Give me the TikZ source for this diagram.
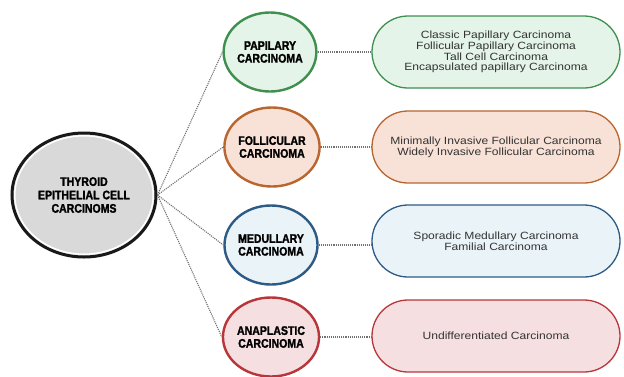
\documentclass[tikz,border=0pt]{standalone}
\usepackage{fontspec}
\setmainfont{Liberation Sans}[FakeStretch=1.15]
\newfontfamily\headfont{Liberation Sans Bold}[FakeStretch=0.85, FakeBold=1.6]
\usetikzlibrary{shapes.geometric}
\definecolor{pgreen}{HTML}{3F8F4F}
\definecolor{pgreenf}{HTML}{E4F4E8}
\definecolor{forange}{HTML}{B9652E}
\definecolor{forangef}{HTML}{F8E2D7}
\definecolor{mblue}{HTML}{2D5B86}
\definecolor{mbluef}{HTML}{EAF4F8}
\definecolor{ared}{HTML}{B8363A}
\definecolor{aredf}{HTML}{F5DFE1}
\definecolor{maingrey}{HTML}{D9D9D9}
\definecolor{linkgrey}{HTML}{707070}
\tikzset{
  typecirc/.style={ellipse, draw=#1, fill=#1f, line width=2.4pt, minimum width=92pt, minimum height=79pt, inner sep=0pt, align=center, font=\fontsize{12.4}{12.8}\headfont},
  subbox/.style={rectangle, rounded corners=36pt, draw=#1, fill=#1f, line width=1.3pt, minimum width=248pt, minimum height=72pt, inner sep=0pt, align=center, font=\fontsize{10.5}{10.7}\selectfont, text=black!80},
  link/.style={draw=linkgrey, line width=1.1pt, densely dotted},
}
\begin{document}
\begin{tikzpicture}[x=1pt,y=-1pt]
\useasboundingbox (0,0) rectangle (624,376);
\node[ellipse, draw=black!90, fill=maingrey, line width=3pt, minimum width=144pt, minimum height=124pt, inner sep=0pt, align=center, font=\fontsize{12.4}{13.4}\headfont] (main) at (84,195) {THYROID\\EPITHELIAL CELL\\CARCINOMS};
\draw[white, line width=1.5pt] (main.center) ellipse (69.2 and 59.2);

\node[typecirc=pgreen] (pap) at (270,52) {PAPILARY\\CARCINOMA};
\node[typecirc=forange] (fol) at (272,147) {FOLLICULAR\\CARCINOMA};
\node[typecirc=mblue] (med) at (271,245) {MEDULLARY\\CARCINOMA};
\node[typecirc=ared] (ana) at (271,337) {ANAPLASTIC\\CARCINOMA};

\node[subbox=pgreen] (papd) at (496,52) {Classic Papillary Carcinoma\\Follicular Papillary Carcinoma\\Tall Cell Carcinoma\\Encapsulated papillary Carcinoma};
\node[subbox=forange] (fold) at (496,147) {Minimally Invasive Follicular Carcinoma\\Widely Invasive Follicular Carcinoma};
\node[subbox=mblue] (medd) at (496,241) {Sporadic Medullary Carcinoma\\Familial Carcinoma};
\node[subbox=ared] (anad) at (496,336) {Undifferentiated Carcinoma};

\draw[link] (main.east) -- (pap.west);
\draw[link] (main.east) -- (fol.west);
\draw[link] (main.east) -- (med.west);
\draw[link] (main.east) -- (ana.west);
\draw[link] (pap.east) -- (papd.west);
\draw[link] (fol.east) -- (fold.west);
\draw[link] (med.east) -- (medd.west |- med.east);
\draw[link] (ana.east) -- (anad.west |- ana.east);
\end{tikzpicture}
\end{document}
